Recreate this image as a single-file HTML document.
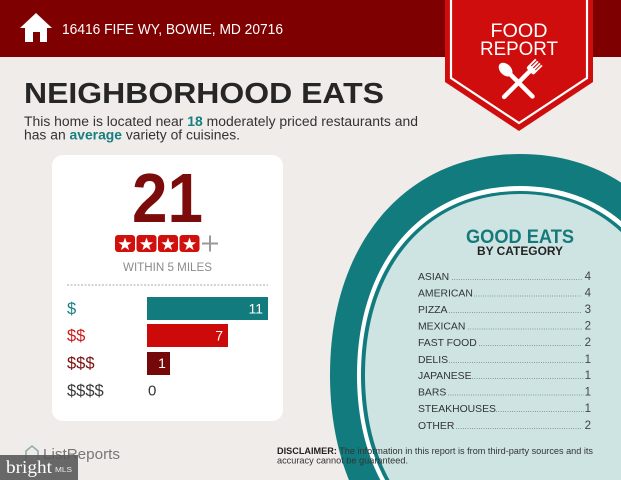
<!DOCTYPE html>
<html><head><meta charset="utf-8"><style>
html,body{margin:0;padding:0;background:#f0ece9;width:621px;height:480px;overflow:hidden;}
svg{display:block;}
.s{font-family:"Liberation Sans",Arial,sans-serif;}
.sf{font-family:"Liberation Serif","Times New Roman",serif;}
</style></head><body>
<svg width="621" height="480" viewBox="0 0 621 480" xmlns="http://www.w3.org/2000/svg">
<defs>
<path id="st" d="M0,-7 L1.65,-2.27 L6.66,-2.16 L2.66,0.87 L4.11,5.66 L0,2.8 L-4.11,5.66 L-2.66,0.87 L-6.66,-2.16 L-1.65,-2.27 Z" fill="#fff"/>
</defs>
<rect width="621" height="480" fill="#f0ece9"/>
<g class="s">
<!-- header -->
<rect x="0" y="0" width="621" height="57" fill="#7e0000"/>
<polygon points="20,28 36,13 52,28" fill="#fff"/>
<rect x="25" y="26" width="22" height="16" fill="#fff"/>
<rect x="33" y="32" width="7" height="10" fill="#7e0000"/>
<text x="62" y="34" font-size="14.5" fill="#fff" textLength="221" lengthAdjust="spacingAndGlyphs">16416 FIFE WY, BOWIE, MD 20716</text>

<!-- title -->
<text x="24" y="103" font-size="29" font-weight="bold" fill="#262626" textLength="360" lengthAdjust="spacingAndGlyphs">NEIGHBORHOOD EATS</text>
<text x="24" y="126" font-size="13.5" fill="#333" textLength="394" lengthAdjust="spacingAndGlyphs">This home is located near <tspan font-weight="bold" fill="#177f80">18</tspan> moderately priced restaurants and</text>
<text x="24" y="139.5" font-size="13.5" fill="#333" textLength="216" lengthAdjust="spacingAndGlyphs">has an <tspan font-weight="bold" fill="#177f80">average</tspan> variety of cuisines.</text>

<!-- circle (clipped to frame) -->
<path d="M348.9,480 C336.66,449.64 330,414.25 330,375 C330,242.4 406,154 520,154 C558.5,154 592.64,164.07 621,182.5 L621,480 Z" fill="#127b7e"/>
<path d="M380.33,480 C365.26,450.96 357,415.37 357,375 C357,261.6 422.2,186 520,186 C559.8,186 594.2,198.5 621,221 L621,480 Z" fill="#ffffff"/>
<path d="M385.22,480 C369.6,451.2 361,415.59 361,375 C361,264.6 424.6,191 520,191 C560.07,191 594.5,204 621,227.2 L621,480 Z" fill="#127b7e"/>
<path d="M389.52,480 C373.71,451.36 365,415.73 365,375 C365,266.4 427,194 520,194 C560.36,194 594.88,207.6 621,232 L621,480 Z" fill="#cde4e3"/>

<text x="520" y="243" font-size="19" font-weight="bold" fill="#167a7c" text-anchor="middle" textLength="108" lengthAdjust="spacingAndGlyphs">GOOD EATS</text>
<text x="520" y="255" font-size="12" font-weight="bold" fill="#222" text-anchor="middle" textLength="86" lengthAdjust="spacingAndGlyphs">BY CATEGORY</text>

<g font-size="10.4" fill="#333">
<text x="418" y="280">ASIAN</text>
<text x="418" y="296.5">AMERICAN</text>
<text x="418" y="313">PIZZA</text>
<text x="418" y="329.5">MEXICAN</text>
<text x="418" y="346">FAST FOOD</text>
<text x="418" y="363">DELIS</text>
<text x="418" y="379">JAPANESE</text>
<text x="418" y="395.5">BARS</text>
<text x="418" y="412">STEAKHOUSES</text>
<text x="418" y="429">OTHER</text>
</g>
<g stroke="#666" stroke-width="0.8" stroke-dasharray="0.8 1.5">
<line x1="452" y1="279.5" x2="582" y2="279.5"/>
<line x1="474" y1="296" x2="582" y2="296"/>
<line x1="449" y1="312.5" x2="582" y2="312.5"/>
<line x1="468" y1="329" x2="582" y2="329"/>
<line x1="479" y1="345.5" x2="582" y2="345.5"/>
<line x1="449" y1="362.5" x2="584" y2="362.5"/>
<line x1="472" y1="378.5" x2="584" y2="378.5"/>
<line x1="448" y1="395" x2="584" y2="395"/>
<line x1="496" y1="411.5" x2="584" y2="411.5"/>
<line x1="456" y1="428.5" x2="582" y2="428.5"/>
</g>
<g font-size="11.5" fill="#444" text-anchor="end">
<text x="591" y="280">4</text>
<text x="591" y="296.5">4</text>
<text x="591" y="313">3</text>
<text x="591" y="329.5">2</text>
<text x="591" y="346">2</text>
<text x="591" y="363">1</text>
<text x="591" y="379">1</text>
<text x="591" y="395.5">1</text>
<text x="591" y="412">1</text>
<text x="591" y="429">2</text>
</g>

<!-- disclaimer -->
<text x="277" y="454" font-size="9.3" fill="#333" textLength="316" lengthAdjust="spacingAndGlyphs"><tspan font-weight="bold" fill="#222">DISCLAIMER:</tspan> The information in this report is from third-party sources and its</text>
<text x="277" y="463.5" font-size="9.3" fill="#333" textLength="131" lengthAdjust="spacingAndGlyphs">accuracy cannot be guaranteed.</text>

<!-- banner -->
<polygon points="445,0 593,0 593,82 519,131 445,82" fill="#d00d0d"/>
<polyline points="451,0 451,78 519,123 587,78 587,0" fill="none" stroke="#fff" stroke-width="2.2"/>
<text x="519" y="37" font-size="19" fill="#fff" text-anchor="middle" textLength="57" lengthAdjust="spacingAndGlyphs">FOOD</text>
<text x="519" y="55" font-size="19" fill="#fff" text-anchor="middle" textLength="78" lengthAdjust="spacingAndGlyphs">REPORT</text>
<g transform="translate(507,71) rotate(-45)" fill="#fff">
<ellipse cx="0" cy="-2" rx="5.5" ry="8"/>
<line x1="0" y1="3" x2="0" y2="36" stroke="#fff" stroke-width="4.5" stroke-linecap="round"/>
</g>
<g transform="translate(531,70) rotate(45)" fill="#fff">
<rect x="-5" y="-11" width="1.8" height="10" />
<rect x="-2.1" y="-11" width="1.8" height="10" />
<rect x="0.8" y="-11" width="1.8" height="10" />
<rect x="3.5" y="-11" width="1.8" height="10" />
<rect x="-5" y="-3" width="10.3" height="5" rx="2"/>
<line x1="0" y1="1" x2="0" y2="38" stroke="#fff" stroke-width="4.5" stroke-linecap="round"/>
</g>

<!-- card -->
<rect x="52" y="155" width="231" height="266" rx="11" fill="#fff"/>
<text x="167.5" y="222" font-size="70" font-weight="bold" fill="#7c0b0b" text-anchor="middle" textLength="71" lengthAdjust="spacingAndGlyphs">21</text>
<g fill="#d0100c">
<rect x="115" y="235" width="20" height="17" rx="3"/>
<rect x="136.5" y="235" width="20" height="17" rx="3"/>
<rect x="158" y="235" width="20" height="17" rx="3"/>
<rect x="179.5" y="235" width="20" height="17" rx="3"/>
</g>
<use href="#st" x="125" y="244.5"/>
<use href="#st" x="146.5" y="244.5"/>
<use href="#st" x="168" y="244.5"/>
<use href="#st" x="189.5" y="244.5"/>
<g stroke="#9a9a9a" stroke-width="2">
<line x1="202" y1="243.5" x2="218" y2="243.5"/>
<line x1="210" y1="235.5" x2="210" y2="251.5"/>
</g>
<text x="167.5" y="271" font-size="11.5" fill="#8c8c8c" text-anchor="middle" textLength="89" lengthAdjust="spacingAndGlyphs">WITHIN 5 MILES</text>
<line x1="67" y1="285" x2="268" y2="285" stroke="#aaa" stroke-width="1" stroke-dasharray="2 1.5"/>

<rect x="147" y="297" width="121" height="23" fill="#127b7e"/>
<rect x="147" y="324" width="81" height="23" fill="#cc0a0a"/>
<rect x="147" y="352" width="23" height="23" fill="#750808"/>
<g font-size="16.5">
<text x="67" y="314" fill="#177f80">$</text>
<text x="67" y="341" fill="#cc1a1a">$$</text>
<text x="67" y="368.5" fill="#7a0d0d">$$$</text>
<text x="67" y="396" fill="#3a3a3a">$$$$</text>
</g>
<g font-size="14" fill="#fff">
<text x="263" y="313.5" text-anchor="end">11</text>
<text x="223" y="340.5" text-anchor="end">7</text>
<text x="162" y="368" text-anchor="middle">1</text>
</g>
<text x="148" y="395.5" font-size="15" fill="#333">0</text>

<!-- ListReports logo -->
<polyline points="26,461 26,451 32,446 38,451 38,461" fill="none" stroke="#8fb0b0" stroke-width="1.6"/>
<text x="43" y="459" font-size="15" fill="#777" textLength="77" lengthAdjust="spacingAndGlyphs">ListReports</text>

<!-- watermark -->
<rect x="0" y="455" width="78" height="25" fill="#555" fill-opacity="0.88"/>
<text class="sf" x="6" y="473" font-size="18" fill="#fff" textLength="46" lengthAdjust="spacingAndGlyphs">bright</text>
<text x="55" y="472" font-size="7.5" fill="#eee" textLength="17" lengthAdjust="spacingAndGlyphs">MLS</text>
</g>
</svg>
</body></html>
